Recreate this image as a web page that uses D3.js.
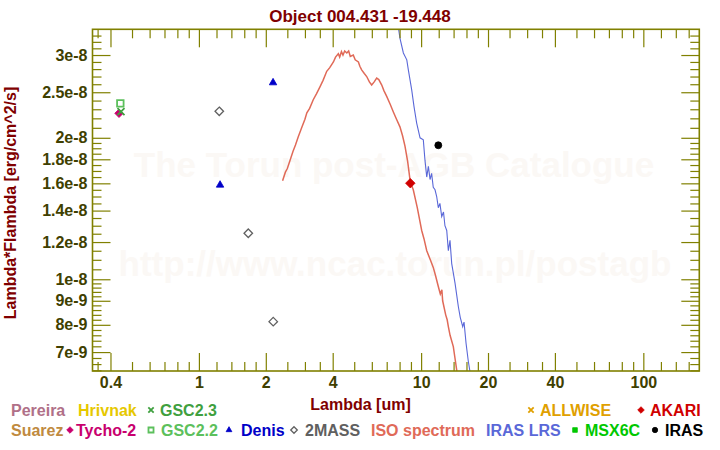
<!DOCTYPE html>
<html>
<head>
<meta charset="utf-8">
<title>Object 004.431 -19.448</title>
<script src="https://cdn.jsdelivr.net/npm/d3@7"></script>
<style>
    body { margin: 0; background: #ffffff; }
    svg { display: block; font-family: "Liberation Sans", Arial, sans-serif; font-weight: bold; }
</style>
</head>
<body>
<script>
(function () {
    // Photometry (lambda [um], lambda*flambda [erg/cm^2/s])
    var tychoLambda = [0.437];
    var tychoFlux = [2.255e-8];
    var gsc23Lambda = [0.446];
    var gsc23Flux = [2.273e-8];
    var gsc22Lambda = [0.443];
    var gsc22Flux = [2.368e-8];
    var denisLambda = [1.245, 2.156];
    var denisFlux = [1.587e-8, 2.62e-8];
    var twomassLambda = [1.235, 1.668, 2.16];
    var twomassFlux = [2.277e-8, 1.253e-8, 8.125e-9];
    var akariLambda = [8.94];
    var akariFlux = [1.601e-8];
    var irasLambda = [11.95];
    var irasFlux = [1.928e-8];

    // ISO spectrum
    var isoLambda = [2.38, 2.45, 2.50, 2.57, 2.65, 2.72, 2.80, 2.90, 3.00, 3.06, 3.15, 3.27, 3.38, 3.51,
        3.62, 3.76, 3.88, 4.03, 4.12, 4.24, 4.30, 4.38, 4.45, 4.53, 4.63, 4.72, 4.80, 4.95, 5.05,
        5.22, 5.30, 5.40, 5.55, 5.69, 5.85, 5.99, 6.15, 6.31, 6.45, 6.65, 6.80, 7.00, 7.25, 7.50,
        7.75, 8.03, 8.25, 8.46, 8.70, 8.94, 9.22, 9.61, 10.06, 10.3, 10.6, 11.0, 11.34, 11.6,
        11.95, 12.2, 12.4, 12.5, 12.9, 13.1, 13.26, 13.5, 13.96, 14.2, 14.46, 14.6];
    var isoFlux = [1.62e-8, 1.69e-8, 1.72e-8, 1.79e-8, 1.87e-8, 1.93e-8, 2.01e-8, 2.10e-8, 2.19e-8,
        2.26e-8, 2.31e-8, 2.41e-8, 2.48e-8, 2.57e-8, 2.65e-8, 2.77e-8, 2.82e-8, 2.90e-8, 2.97e-8,
        3.02e-8, 2.97e-8, 3.05e-8, 3.00e-8, 3.06e-8, 3.03e-8, 3.06e-8, 2.98e-8, 3.00e-8, 2.93e-8,
        2.90e-8, 2.84e-8, 2.79e-8, 2.74e-8, 2.70e-8, 2.63e-8, 2.59e-8, 2.63e-8, 2.68e-8, 2.66e-8,
        2.59e-8, 2.52e-8, 2.45e-8, 2.36e-8, 2.27e-8, 2.19e-8, 2.11e-8, 2.02e-8, 1.92e-8, 1.78e-8,
        1.61e-8, 1.55e-8, 1.42e-8, 1.27e-8, 1.22e-8, 1.15e-8, 1.10e-8, 1.06e-8, 1.02e-8, 9.65e-9,
        9.3e-9, 9.5e-9, 9.0e-9, 8.4e-9, 8.2e-9, 7.93e-9, 7.6e-9, 7.19e-9, 6.8e-9, 6.41e-9, 6.1e-9];

    // IRAS LRS spectrum
    var lrsLambda = [7.91, 8.03, 8.32, 8.62, 8.76, 9.07, 9.29, 9.55, 9.89, 10.23, 10.41, 10.60,
        10.78, 10.97, 11.15, 11.34, 11.55, 11.75, 11.95, 12.15, 12.38, 12.61, 12.8, 13.04, 13.26,
        13.49, 13.73, 14.21, 14.71, 15.0, 15.39, 15.60, 15.93, 16.30, 16.60, 16.80];
    var lrsFlux = [3.42e-8, 3.26e-8, 3.03e-8, 2.93e-8, 2.79e-8, 2.53e-8, 2.33e-8, 2.15e-8, 2.00e-8,
        1.98e-8, 1.79e-8, 1.65e-8, 1.74e-8, 1.63e-8, 1.68e-8, 1.57e-8, 1.55e-8, 1.50e-8, 1.42e-8,
        1.45e-8, 1.36e-8, 1.39e-8, 1.30e-8, 1.27e-8, 1.15e-8, 1.21e-8, 1.08e-8, 9.81e-9, 8.74e-9,
        8.3e-9, 7.93e-9, 8.11e-9, 7.31e-9, 6.7e-9, 6.35e-9, 6.1e-9];

    // Axis ticks
    var xMajorTicks = [0.4, 1, 2, 4, 10, 20, 40, 100];
    var xMajorLabels = ["0.4", "1", "2", "4", "10", "20", "40", "100"];
    var xMinorTicks = [0.35, 0.5, 0.6, 0.7, 0.8, 0.9, 1.2, 1.4, 1.6, 1.8, 2.5, 3, 3.5, 5, 6, 7, 8, 9,
        12, 14, 16, 18, 25, 30, 35, 50, 60, 70, 80, 90, 120, 140, 160];
    var yMajorTicks = [7e-9, 8e-9, 9e-9, 1e-8, 1.2e-8, 1.4e-8, 1.6e-8, 1.8e-8, 2e-8, 2.5e-8, 3e-8];
    var yMajorLabels = ["7e-9", "8e-9", "9e-9", "1e-8", "1.2e-8", "1.4e-8", "1.6e-8", "1.8e-8",
        "2e-8", "2.5e-8", "3e-8"];
    var yMinorTicks = [6.4e-9, 6.6e-9, 6.8e-9, 7.2e-9, 7.4e-9, 7.6e-9, 7.8e-9, 8.2e-9, 8.4e-9,
        8.6e-9, 8.8e-9, 9.2e-9, 9.4e-9, 9.6e-9, 9.8e-9, 1.05e-8, 1.1e-8, 1.15e-8, 1.25e-8, 1.3e-8,
        1.35e-8, 1.45e-8, 1.5e-8, 1.55e-8, 1.65e-8, 1.7e-8, 1.75e-8, 1.85e-8, 1.9e-8, 1.95e-8,
        2.1e-8, 2.2e-8, 2.3e-8, 2.4e-8, 2.6e-8, 2.7e-8, 2.8e-8, 2.9e-8, 3.1e-8, 3.2e-8, 3.3e-8];

    // Legend entries
    var legendNames = ["Pereira", "Hrivnak", "GSC2.3", "ALLWISE", "AKARI",
        "Suarez", "Tycho-2", "GSC2.2", "Denis", "2MASS", "ISO spectrum", "IRAS LRS", "MSX6C", "IRAS"];
    var legendColors = ["#b07088", "#e6c800", "#3fa03f", "#e0a000", "#d00000",
        "#c08a40", "#c8006e", "#5cc05c", "#0000c8", "#606060", "#e06a58", "#5a68d8", "#00c800", "#000000"];
    var legendShapes = [null, null, "times", "times", "diamond",
        null, "diamond", "squareOpen", "triangle", "diamondOpen", null, null, "square", "circle"];

    // Layout
    var width = 720, height = 450;
    var plotLeft = 92.5, plotRight = 699.3, plotTop = 29.3, plotBottom = 371;
    var axisColor = "#808000";
    var tickTextColor = "#404000";
    var labelColor = "#800000";
    var legendRowY = [416, 436];
    var legendRow = [0, 0, 0, 0, 0, 1, 1, 1, 1, 1, 1, 1, 1, 1];
    var legendTextX = [11, 78, 160, 540, 650, 11, 76, 161, 241, 305, 371, 486, 585, 665];
    var legendMarkX = [0, 0, 151, 531, 641, 0, 70, 151, 229, 294, 0, 0, 575, 655];

    var svg = d3.select("body")
        .append("svg")
        .attr("width", width)
        .attr("height", height);

    var x = d3.scaleLog()
        .domain([0.332, 178.6])
        .range([plotLeft, plotRight]);

    var y = d3.scaleLog()
        .domain([6.38e-9, 3.403e-8])
        .range([plotBottom, plotTop]);

    // Watermark (barely visible)
    svg.append("text")
        .attr("x", 394)
        .attr("y", 177)
        .attr("text-anchor", "middle")
        .attr("font-size", 35)
        .attr("fill", "#fbf8f5")
        .text("The Torun post-AGB Catalogue");

    svg.append("text")
        .attr("x", 395)
        .attr("y", 276)
        .attr("text-anchor", "middle")
        .attr("font-size", 35)
        .attr("fill", "#fbf8f5")
        .text("http://www.ncac.torun.pl/postagb");

    // Clip for spectra
    svg.append("clipPath")
        .attr("id", "plot-clip")
        .append("rect")
        .attr("x", plotLeft)
        .attr("y", plotTop)
        .attr("width", plotRight - plotLeft)
        .attr("height", plotBottom - plotTop);

    var line = d3.line()
        .x(function (d) { return x(d[0]); })
        .y(function (d) { return y(d[1]); });

    var spectra = [
        { lambda: isoLambda, flux: isoFlux, color: "#e06a58", width: 1.5 },
        { lambda: lrsLambda, flux: lrsFlux, color: "#5a68d8", width: 1.1 }
    ];

    spectra.forEach(function (s) {
        svg.append("path")
            .datum(d3.zip(s.lambda, s.flux))
            .attr("clip-path", "url(#plot-clip)")
            .attr("fill", "none")
            .attr("stroke", s.color)
            .attr("stroke-width", s.width)
            .attr("d", line);
    });

    // Axes: major + minor ticks on all four sides, pointing inward
    function styleAxis(g) {
        g.select(".domain").remove();
        g.selectAll(".tick line")
            .attr("stroke", axisColor)
            .attr("stroke-width", 1.2);
        g.selectAll(".tick text")
            .attr("fill", tickTextColor)
            .attr("font-size", 16)
            .attr("font-family", "'Liberation Sans', Arial, sans-serif")
            .attr("font-weight", "bold");
        g.attr("font-family", null).attr("font-size", null);
    }

    svg.append("g")
        .attr("transform", "translate(0," + plotBottom + ")")
        .call(d3.axisBottom(x).tickValues(xMajorTicks).tickSize(-18).tickPadding(6)
            .tickFormat(function (d, i) { return xMajorLabels[i]; }))
        .call(styleAxis);

    svg.append("g")
        .attr("transform", "translate(0," + plotBottom + ")")
        .call(d3.axisBottom(x).tickValues(xMinorTicks).tickSize(-9).tickFormat(""))
        .call(styleAxis);

    svg.append("g")
        .attr("transform", "translate(0," + plotTop + ")")
        .call(d3.axisTop(x).tickValues(xMajorTicks).tickSize(-18).tickFormat(""))
        .call(styleAxis);

    svg.append("g")
        .attr("transform", "translate(0," + plotTop + ")")
        .call(d3.axisTop(x).tickValues(xMinorTicks).tickSize(-9).tickFormat(""))
        .call(styleAxis);

    svg.append("g")
        .attr("transform", "translate(" + plotLeft + ",0)")
        .call(d3.axisLeft(y).tickValues(yMajorTicks).tickSize(-18).tickPadding(5)
            .tickFormat(function (d, i) { return yMajorLabels[i]; }))
        .call(styleAxis);

    svg.append("g")
        .attr("transform", "translate(" + plotLeft + ",0)")
        .call(d3.axisLeft(y).tickValues(yMinorTicks).tickSize(-9).tickFormat(""))
        .call(styleAxis);

    svg.append("g")
        .attr("transform", "translate(" + plotRight + ",0)")
        .call(d3.axisRight(y).tickValues(yMajorTicks).tickSize(-18).tickFormat(""))
        .call(styleAxis);

    svg.append("g")
        .attr("transform", "translate(" + plotRight + ",0)")
        .call(d3.axisRight(y).tickValues(yMinorTicks).tickSize(-9).tickFormat(""))
        .call(styleAxis);

    // Plot frame
    svg.append("rect")
        .attr("x", plotLeft)
        .attr("y", plotTop)
        .attr("width", plotRight - plotLeft)
        .attr("height", plotBottom - plotTop)
        .attr("fill", "none")
        .attr("stroke", axisColor)
        .attr("stroke-width", 1.6);

    // Marker shapes
    var symTimes = d3.symbolTimes || d3.symbolX || d3.symbolCross;
    var symDiamond = d3.symbolDiamond2 || d3.symbolDiamond;
    var symSquareOpen = d3.symbolSquare2 || d3.symbolSquare;

    function markerPath(shape, scale) {
        var types = {
            times: [symTimes, 34],
            diamond: [symDiamond, 46],
            squareOpen: [symSquareOpen, 54],
            triangle: [d3.symbolTriangle, 24],
            diamondOpen: [symDiamond, 46],
            square: [d3.symbolSquare, 36],
            circle: [d3.symbolCircle, 38]
        };
        var t = types[shape];
        return d3.symbol().type(t[0]).size(t[1] * scale)();
    }

    function styleMarker(sel, shape, color) {
        var open = shape === "times" || shape === "squareOpen" || shape === "diamondOpen";
        sel.attr("fill", open ? "none" : color)
            .attr("stroke", color)
            .attr("stroke-width", shape === "diamondOpen" ? 1.3 : (open ? 1.8 : 0.8));
    }

    // Photometry markers
    var photometry = [
        { lambda: tychoLambda, flux: tychoFlux, shape: "diamond", color: "#c8006e", scale: 1 },
        { lambda: gsc22Lambda, flux: gsc22Flux, shape: "squareOpen", color: "#5cc05c", scale: 1 },
        { lambda: gsc23Lambda, flux: gsc23Flux, shape: "times", color: "#3fa03f", scale: 1 },
        { lambda: denisLambda, flux: denisFlux, shape: "triangle", color: "#0000c8", scale: 1 },
        { lambda: twomassLambda, flux: twomassFlux, shape: "diamondOpen", color: "#606060", scale: 1 },
        { lambda: akariLambda, flux: akariFlux, shape: "diamond", color: "#d00000", scale: 1.25 },
        { lambda: irasLambda, flux: irasFlux, shape: "circle", color: "#000000", scale: 1 }
    ];

    photometry.forEach(function (s) {
        var sel = svg.append("g")
            .selectAll("path")
            .data(d3.zip(s.lambda, s.flux))
            .enter()
            .append("path")
            .attr("transform", function (d) {
                return "translate(" + x(d[0]) + "," + y(d[1]) + ")";
            })
            .attr("d", markerPath(s.shape, s.scale));
        styleMarker(sel, s.shape, s.color);
    });

    // Title and axis labels
    svg.append("text")
        .attr("x", 360)
        .attr("y", 22)
        .attr("text-anchor", "middle")
        .attr("font-size", 17)
        .attr("fill", labelColor)
        .text("Object 004.431 -19.448");

    svg.append("text")
        .attr("transform", "translate(15.5,203) rotate(-90)")
        .attr("text-anchor", "middle")
        .attr("font-size", 16)
        .attr("fill", labelColor)
        .text("Lambda*Flambda [erg/cm^2/s]");

    svg.append("text")
        .attr("x", 360.5)
        .attr("y", 410)
        .attr("text-anchor", "middle")
        .attr("font-size", 16)
        .attr("fill", labelColor)
        .text("Lambda [um]");

    // Legend
    legendNames.forEach(function (name, i) {
        var rowY = legendRowY[legendRow[i]];
        if (legendShapes[i]) {
            var m = svg.append("path")
                .attr("transform", "translate(" + legendMarkX[i] + "," + (rowY - 6) + ")")
                .attr("d", markerPath(legendShapes[i], 0.6));
            styleMarker(m, legendShapes[i], legendColors[i]);
        }
        svg.append("text")
            .attr("x", legendTextX[i])
            .attr("y", rowY)
            .attr("font-size", 16)
            .attr("fill", legendColors[i])
            .text(name);
    });
})();
</script>
</body>
</html>
